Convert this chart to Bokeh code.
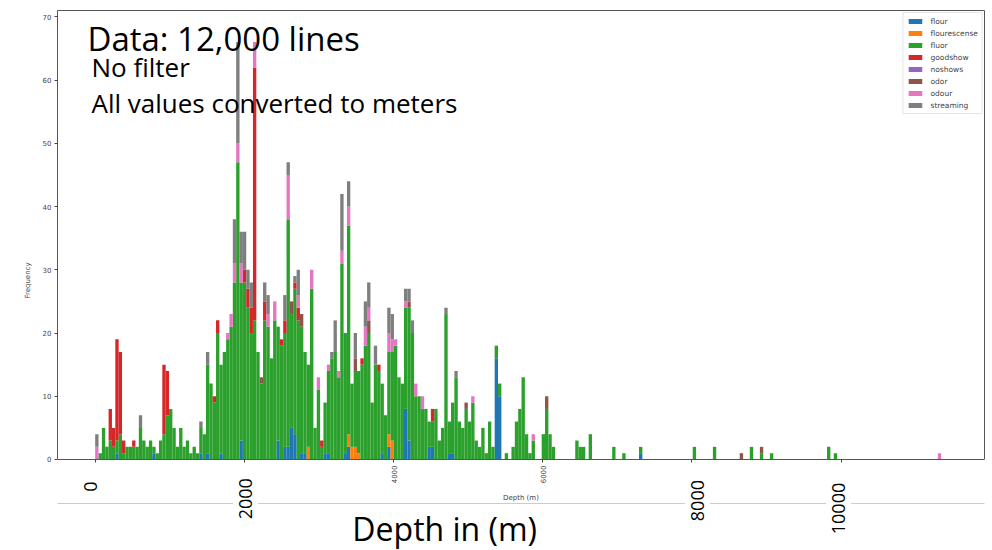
import math
from bokeh.plotting import figure
from bokeh.models import (ColumnDataSource, Label, FixedTicker, BoxAnnotation, Range1d,
                          LinearAxis)
from bokeh.embed import file_html
from bokeh.resources import INLINE

# ---------------- data ----------------
bin_width = 45  # metres per histogram bin
bins = list(range(0, 137)) + [143, 144, 145, 147, 154, 157, 162, 178, 184, 192, 195, 198, 201, 218, 220, 251]

fluor = [0, 1, 5, 2, 3, 2, 2, 4, 1, 2, 2, 2, 2, 5, 3, 2, 3, 1, 1, 3,
         4, 7, 8, 5, 2, 5, 2, 3, 1, 2, 1, 4, 4, 14, 12, 9, 20, 14, 17, 19,
         21, 28, 47, 25, 28, 24, 20, 22, 17, 12, 22, 21, 16, 22, 18, 18, 18, 36, 18, 23,
         22, 20, 16, 13, 27, 5, 11, 2, 8, 13, 16, 17, 13, 31, 19, 33, 10, 12, 13, 15,
         18, 20, 9, 15, 14, 11, 7, 13, 14, 18, 13, 12, 16, 21, 20, 10, 10, 8, 8, 4,
         4, 8, 3, 5, 23, 5, 8, 13, 6, 5, 8, 6, 9, 3, 2, 5, 1, 6, 2, 2,
         2, 0, 1, 0, 2, 6, 8, 13, 4, 1, 3, 0, 0, 4, 8, 4, 2,
         3, 2, 2, 4, 2, 1, 1, 2, 2, 0, 2, 1, 1, 2, 1, 0]

flour = {6: 1, 17: 1, 31: 1, 33: 1, 37: 1, 43: 3, 54: 3, 56: 2, 57: 2, 58: 5, 59: 4, 61: 1,
         62: 1, 68: 1, 69: 1, 74: 1, 75: 2, 85: 1, 87: 2, 92: 8, 93: 3, 99: 2, 100: 2,
         105: 1, 106: 1, 119: 16, 120: 10, 162: 1}
flourescense = {63: 2, 75: 2, 76: 2, 77: 2, 78: 1, 87: 2, 88: 3}
goodshow = {4: 5, 5: 3, 6: 16, 7: 13, 8: 2, 11: 1, 20: 11, 21: 7, 35: 1, 36: 2, 44: 2, 45: 3,
            46: 4, 47: 40, 50: 3, 55: 1, 56: 2, 59: 1, 60: 2, 67: 1, 79: 1, 84: 1, 100: 2}
noshows = {}
odor = {49: 1, 58: 2, 61: 2, 77: 2, 81: 2, 93: 1, 110: 1, 134: 2, 192: 1, 198: 1}
odour = {0: 2, 39: 1, 40: 2, 41: 3, 42: 3, 43: 3, 47: 4, 51: 2, 53: 3, 57: 7, 60: 2, 64: 3,
         66: 2, 69: 1, 72: 1, 73: 2, 75: 3, 80: 3, 81: 2, 87: 3, 88: 2, 89: 1, 92: 1, 95: 2,
         97: 2, 112: 1, 130: 1, 251: 1}
streaming = {0: 2, 13: 2, 31: 1, 33: 2, 41: 7, 42: 16, 43: 5, 44: 6, 45: 3, 46: 4, 50: 3,
             51: 3, 56: 4, 57: 2, 59: 1, 60: 4, 70: 1, 71: 5, 73: 9, 75: 4, 77: 4, 80: 4,
             81: 4, 83: 3, 87: 4, 88: 4, 92: 2, 93: 2, 94: 2, 104: 1, 107: 1}

series_names = ["flour", "flourescense", "fluor", "goodshow", "noshows", "odor", "odour", "streaming"]
colors = ["#1f77b4", "#ff7f0e", "#2ca02c", "#d62728", "#9467bd", "#8c564b", "#e377c2", "#7f7f7f"]

y_ticks = [0, 10, 20, 30, 40, 50, 60, 70]
x_ticks = [0, 2000, 4000, 6000, 8000, 10000]
small_x_labels = ["4000", "6000"]          # the others are hidden under the slide's big labels
big_x_labels = ["0", "2000", "8000", "10000"]

title_lines = ["Data: 12,000 lines", "No filter", "All values converted to meters"]
big_axis_title = "Depth in (m)"

# ---------------- build source ----------------
data = {"x": [(k + 0.5) * bin_width for k in bins]}
sparse = {"flour": flour, "flourescense": flourescense, "goodshow": goodshow,
          "noshows": noshows, "odor": odor, "odour": odour, "streaming": streaming}
for name in series_names:
    if name == "fluor":
        data[name] = list(fluor)
    else:
        data[name] = [sparse[name].get(k, 0) for k in bins]
source = ColumnDataSource(data)

# ---------------- figure ----------------
# the frame runs down to the bottom of the page so that the slide's texts below the
# histogram (which sit in data space) are not clipped; the x axis is pinned at y = 0
Y_TOP = 71
p = figure(width=992, height=550, x_range=Range1d(-505, 11921), y_range=Range1d(-14.39, Y_TOP),
           output_backend="svg", toolbar_location=None,
           min_border_left=57, min_border_right=8, min_border_top=10, min_border_bottom=0)
p.background_fill_color = "white"
p.border_fill_color = "white"
p.outline_line_color = None
p.grid.visible = False

p.vbar_stack(series_names, x="x", width=bin_width, color=colors, source=source,
             line_color=None, legend_label=series_names)

spine = "#555555"
tick_font = "DejaVu Sans"

# y axis (left spine)
yax = p.yaxis[0]
yax.ticker = FixedTicker(ticks=y_ticks)
yax.bounds = (0, Y_TOP)
yax.axis_label = "Frequency"

# x axis pinned at y = 0 (bottom spine)
xax = p.xaxis[0]
xax.fixed_location = 0
xax.ticker = FixedTicker(ticks=x_ticks)
xax.major_label_overrides = {t: (str(t) if str(t) in small_x_labels else "") for t in x_ticks}
xax.major_label_orientation = math.pi / 2
xax.axis_label = "Depth (m)"

for ax in (xax, yax):
    ax.axis_line_color = spine
    ax.major_tick_in = 0
    ax.major_tick_out = 3
    ax.major_tick_line_color = "#444444"
    ax.minor_tick_line_color = None
    ax.major_label_standoff = 3
    ax.major_label_text_font = tick_font
    ax.major_label_text_font_size = "7px"
    ax.major_label_text_color = "#444444"
    ax.axis_label_text_font = tick_font
    ax.axis_label_text_font_size = "7px"
    ax.axis_label_text_font_style = "normal"
    ax.axis_label_text_color = "#444444"
    ax.axis_label_standoff = 8

# right and top spines
right_ax = LinearAxis(ticker=FixedTicker(ticks=[]), bounds=(0, Y_TOP), axis_line_color=spine,
                      major_tick_out=0, major_tick_in=0, minor_tick_out=0, minor_tick_in=0,
                      major_label_text_font_size="0px", major_label_standoff=0)
p.add_layout(right_ax, "right")
top_ax = LinearAxis(ticker=FixedTicker(ticks=[]), axis_line_color=spine,
                    major_tick_out=0, major_tick_in=0, minor_tick_out=0, minor_tick_in=0,
                    major_label_text_font_size="0px", major_label_standoff=0)
p.add_layout(top_ax, "above")

# legend
lg = p.legend[0]
lg.location = "top_right"
lg.margin = 2
lg.padding = 3
lg.spacing = 2
lg.label_height = 10
lg.glyph_height = 6
lg.glyph_width = 17
lg.label_standoff = 7
lg.label_text_font = tick_font
lg.label_text_font_size = "7.5px"
lg.label_text_color = "#444444"
lg.border_line_color = "#cccccc"
lg.background_fill_alpha = 0.8

# slide decoration: thin gray rule under the axis
rule = BoxAnnotation(left=-2000, right=14000, bottom=-7.05, top=-6.9,
                     fill_color="#bbbbbb", fill_alpha=1, line_color=None)
p.add_layout(rule)

# slide text boxes
font = "Open Sans"
p.add_layout(Label(x=-103, y=66.6, text=title_lines[0], text_font=font,
                   text_font_size="33px", text_color="black", text_baseline="alphabetic"))
p.add_layout(Label(x=-50, y=62.0, text=title_lines[1], text_font=font,
                   text_font_size="26px", text_color="black", text_baseline="alphabetic"))
p.add_layout(Label(x=-50, y=56.4, text=title_lines[2], text_font=font,
                   text_font_size="26px", text_color="black", text_baseline="alphabetic"))

big_pos = {"0": (-63, -4.3), "2000": (2015, -6.2), "8000": (8075, -6.5), "10000": (9965, -7.75)}
for lab in big_x_labels:
    bx, by = big_pos[lab]
    p.add_layout(Label(x=bx, y=by, text=lab, angle=math.pi / 2, text_font=font,
                       text_font_size="18px", text_color="black",
                       text_align="center", text_baseline="middle",
                       background_fill_color="white", padding=6))

p.add_layout(Label(x=4685, y=-10.9, text=big_axis_title, text_font=font,
                   text_font_size="32px", text_color="black",
                   text_align="center", text_baseline="alphabetic"))

open("out.html", "w").write(file_html(p, INLINE))
